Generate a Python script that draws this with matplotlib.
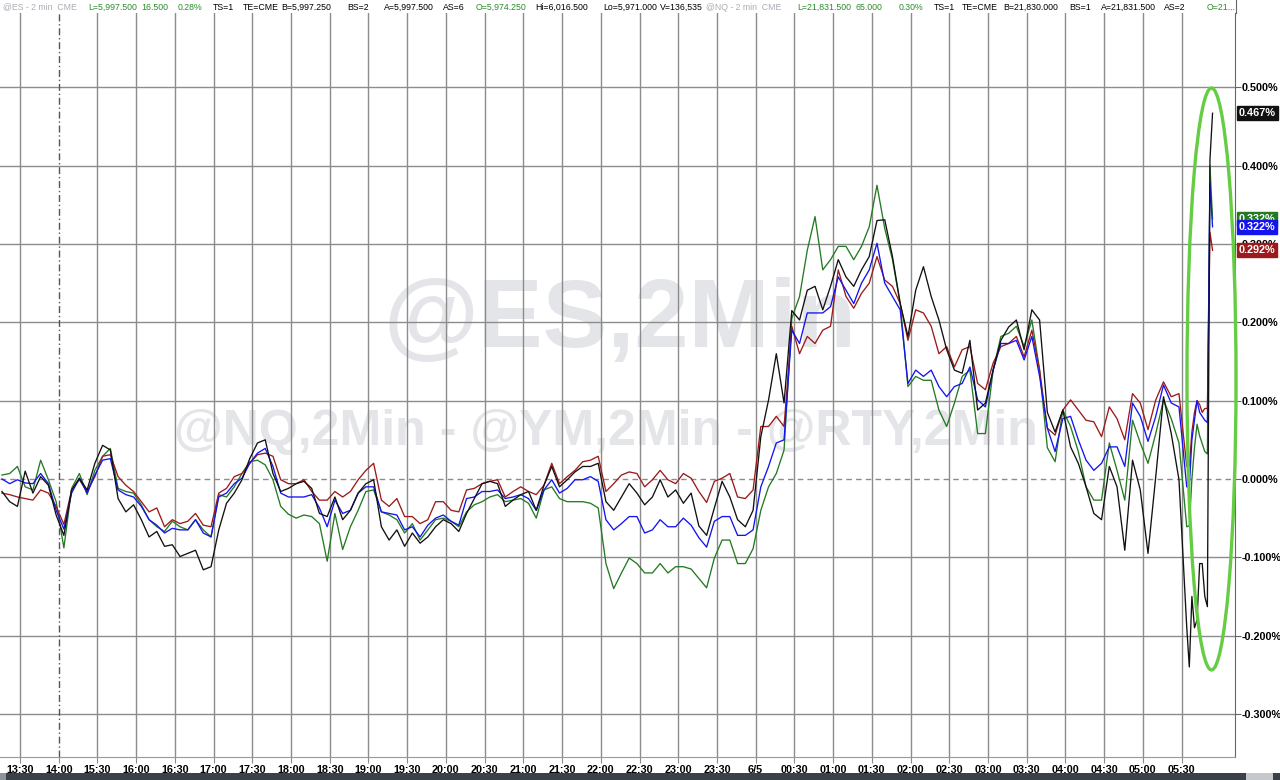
import matplotlib
matplotlib.use("Agg")
import matplotlib.pyplot as plt
from matplotlib.patches import Ellipse, Rectangle
from matplotlib.lines import Line2D
import numpy as np

plt.rcParams["font.family"] = ["Liberation Sans", "DejaVu Sans"]

# ================================================================== DATA
# session clock in minutes after 13:30 (the 14:00-15:00 break is removed)
minutes = list(range(-14, 905, 6)) + list(range(906, 925, 2))
tick_labels = ["13:30", "14:00", "15:30", "16:00", "16:30", "17:00", "17:30", "18:00", "18:30",
               "19:00", "19:30", "20:00", "20:30", "21:00", "21:30", "22:00", "22:30", "23:00",
               "23:30", "6/5", "00:30", "01:00", "01:30", "02:00", "02:30", "03:00", "03:30",
               "04:00", "04:30", "05:00", "05:30"]
y_ticks = [-0.3, -0.2, -0.1, 0.0, 0.1, 0.2, 0.3, 0.4, 0.5]

# % change
nq_black = [
    -0.016, -0.029, -0.035, 0.010, -0.018, 0.003, -0.008, -0.046, -0.072, -0.014,
    0.001, -0.014, 0.020, 0.043, 0.037, -0.025, -0.042, -0.033, -0.052, -0.074,
    -0.067, -0.086, -0.084, -0.099, -0.095, -0.091, -0.116, -0.112, -0.065, -0.031,
    -0.018, -0.001, 0.026, 0.046, 0.050, 0.007, -0.016, -0.012, -0.006, -0.003,
    -0.012, -0.044, -0.048, -0.023, -0.052, -0.040, -0.018, -0.006, -0.001, -0.061,
    -0.078, -0.065, -0.086, -0.069, -0.082, -0.074, -0.061, -0.052, -0.057, -0.067,
    -0.044, -0.025, -0.006, -0.003, -0.006, -0.035, -0.027, -0.020, -0.016, -0.040,
    -0.008, 0.016, -0.010, -0.001, 0.009, 0.016, 0.016, 0.020, -0.029, -0.040,
    -0.023, -0.006, -0.018, -0.033, -0.023, -0.001, -0.023, -0.014, -0.031, -0.018,
    -0.060, -0.072, -0.037, -0.003, -0.023, -0.052, -0.061, -0.040, 0.054, 0.101,
    0.160, 0.097, 0.215, 0.203, 0.241, 0.246, 0.216, 0.246, 0.280, 0.258,
    0.246, 0.267, 0.284, 0.330, 0.331, 0.284, 0.224, 0.182, 0.241, 0.271,
    0.233, 0.203, 0.165, 0.139, 0.135, 0.177, 0.088, 0.097, 0.139, 0.177,
    0.194, 0.203, 0.165, 0.216, 0.203, 0.085, 0.060, 0.088, 0.041, 0.020,
    -0.010, -0.044, -0.052, 0.016, -0.010, -0.091, 0.024, -0.014, -0.095, 0.003,
    0.105, 0.058, -0.001, -0.189,
    -0.240, -0.150, -0.190, -0.180, -0.108, -0.108, -0.150, -0.163, 0.408, 0.467]
rty_green = [
    0.005, 0.007, 0.016, -0.010, -0.014, 0.024, -0.001, -0.029, -0.088, -0.012,
    0.007, -0.020, 0.011, 0.029, 0.039, -0.012, -0.016, -0.018, -0.033, -0.052,
    -0.061, -0.067, -0.054, -0.061, -0.065, -0.052, -0.065, -0.074, -0.020, -0.023,
    -0.010, 0.007, 0.022, 0.024, 0.018, -0.001, -0.035, -0.045, -0.050, -0.046,
    -0.048, -0.057, -0.105, -0.044, -0.090, -0.061, -0.040, -0.016, -0.014, -0.042,
    -0.046, -0.052, -0.069, -0.057, -0.078, -0.065, -0.052, -0.050, -0.054, -0.061,
    -0.042, -0.033, -0.029, -0.023, -0.020, -0.029, -0.027, -0.025, -0.031, -0.050,
    -0.014, -0.010, -0.025, -0.029, -0.029, -0.029, -0.031, -0.037, -0.108, -0.140,
    -0.120, -0.101, -0.108, -0.120, -0.120, -0.108, -0.120, -0.112, -0.112, -0.115,
    -0.127, -0.139, -0.101, -0.078, -0.078, -0.108, -0.108, -0.089, -0.040, -0.010,
    0.007, 0.037, 0.205, 0.233, 0.292, 0.335, 0.267, 0.280, 0.297, 0.297,
    0.280, 0.297, 0.322, 0.375, 0.320, 0.280, 0.224, 0.118, 0.131, 0.126,
    0.126, 0.088, 0.067, 0.097, 0.131, 0.139, 0.058, 0.058, 0.139, 0.182,
    0.186, 0.195, 0.169, 0.203, 0.139, 0.040, 0.022, 0.088, 0.067, 0.035,
    -0.010, -0.027, -0.027, 0.046, 0.011, -0.027, 0.075, 0.046, 0.020, 0.058,
    0.101, 0.077, 0.046, -0.061,
    -0.060, 0.000, 0.040, 0.070, 0.055, 0.045, 0.035, 0.032, 0.400, 0.332]
es_blue = [
    0.000, -0.006, -0.001, -0.005, -0.006, 0.007, -0.006, -0.040, -0.064, -0.018,
    0.001, -0.018, 0.005, 0.024, 0.026, -0.014, -0.020, -0.023, -0.035, -0.052,
    -0.059, -0.069, -0.063, -0.065, -0.065, -0.052, -0.069, -0.074, -0.023, -0.018,
    -0.006, 0.001, 0.020, 0.033, 0.039, 0.016, -0.018, -0.023, -0.023, -0.023,
    -0.020, -0.037, -0.061, -0.027, -0.044, -0.040, -0.018, -0.010, -0.010, -0.042,
    -0.044, -0.046, -0.065, -0.061, -0.074, -0.059, -0.050, -0.046, -0.054, -0.059,
    -0.025, -0.023, -0.016, -0.016, -0.014, -0.025, -0.023, -0.020, -0.025, -0.040,
    -0.014, -0.001, -0.018, -0.012, -0.001, -0.001, 0.003, -0.003, -0.052, -0.065,
    -0.057, -0.048, -0.048, -0.069, -0.065, -0.052, -0.061, -0.061, -0.050, -0.059,
    -0.075, -0.087, -0.054, -0.048, -0.048, -0.072, -0.072, -0.065, -0.010, 0.016,
    0.046, 0.050, 0.190, 0.173, 0.212, 0.212, 0.212, 0.220, 0.258, 0.241,
    0.224, 0.250, 0.267, 0.301, 0.250, 0.233, 0.216, 0.122, 0.139, 0.131,
    0.139, 0.118, 0.105, 0.118, 0.122, 0.143, 0.101, 0.092, 0.139, 0.173,
    0.173, 0.177, 0.152, 0.182, 0.131, 0.065, 0.035, 0.077, 0.080, 0.050,
    0.024, 0.011, 0.020, 0.041, 0.041, 0.016, 0.097, 0.080, 0.048, 0.080,
    0.120, 0.097, 0.092, -0.010,
    -0.010, 0.050, 0.075, 0.100, 0.085, 0.080, 0.075, 0.072, 0.378, 0.322]
ym_red = [
    -0.018, -0.020, -0.023, -0.025, -0.027, -0.014, -0.018, -0.035, -0.058, -0.014,
    -0.001, -0.016, 0.003, 0.029, 0.031, 0.003, -0.008, -0.016, -0.029, -0.042,
    -0.037, -0.061, -0.052, -0.057, -0.054, -0.044, -0.059, -0.061, -0.018, -0.012,
    0.003, 0.007, 0.020, 0.031, 0.033, 0.029, -0.001, -0.006, -0.006, -0.001,
    -0.016, -0.027, -0.027, -0.016, -0.023, -0.016, -0.001, 0.011, 0.020, -0.027,
    -0.035, -0.025, -0.048, -0.048, -0.057, -0.052, -0.029, -0.029, -0.040, -0.042,
    -0.014, -0.012, -0.006, -0.003, -0.001, -0.023, -0.016, -0.010, -0.016, -0.020,
    -0.008, 0.020, -0.006, 0.003, 0.011, 0.022, 0.024, 0.029, -0.016, -0.006,
    0.005, 0.009, 0.007, -0.010, -0.001, 0.011, -0.001, -0.006, 0.007, 0.001,
    -0.016, -0.030, -0.003, 0.001, 0.007, -0.023, -0.025, -0.014, 0.067, 0.067,
    0.080, 0.067, 0.195, 0.160, 0.182, 0.173, 0.190, 0.195, 0.267, 0.233,
    0.218, 0.237, 0.250, 0.284, 0.254, 0.246, 0.224, 0.177, 0.216, 0.212,
    0.195, 0.160, 0.169, 0.143, 0.165, 0.169, 0.122, 0.114, 0.148, 0.169,
    0.173, 0.182, 0.156, 0.190, 0.139, 0.065, 0.056, 0.088, 0.101, 0.088,
    0.075, 0.073, 0.054, 0.092, 0.077, 0.050, 0.109, 0.097, 0.063, 0.101,
    0.124, 0.105, 0.109, 0.016,
    0.016, 0.060, 0.085, 0.100, 0.095, 0.085, 0.090, 0.090, 0.315, 0.292]

C_BLACK, C_GREEN, C_BLUE, C_RED = "#111111", "#237a23", "#1414ee", "#9c1a1a"
GRID = "#8c8c8c"

# ================================================================== FIGURE
fig = plt.figure(figsize=(12.8, 7.8), dpi=100)
ax = fig.add_axes([0, 23/780, 1235/1280, 744/780])
ax.set_xlim(-15.5, 941.4); ax.set_ylim(-0.355, 0.595)

xt = [30*k for k in range(len(tick_labels))]
for v in y_ticks:
    ax.axhline(v, color=GRID, lw=1.0, ls=(0, (4, 3)) if v == 0 else "-", zorder=1)
for t in xt:
    if t == 30:
        ax.axvline(t, color="#555555", lw=1.0, ls=(0, (5, 2, 1, 2)), zorder=1)
    else:
        ax.axvline(t, color=GRID, lw=1.0, zorder=1)

# watermark
ax.text(0.502, 0.585, "@ES,2Min", transform=ax.transAxes, ha="center", va="center",
        fontsize=70, fontweight="bold", color="#e4e5e8", zorder=0)
ax.text(0.491, 0.437, "@NQ,2Min - @YM,2Min - @RTY,2Min", transform=ax.transAxes, ha="center",
        va="center", fontsize=36, fontweight="bold", color="#e4e5e8", zorder=0)

for ser, c in [(rty_green, C_GREEN), (ym_red, C_RED), (es_blue, C_BLUE), (nq_black, C_BLACK)]:
    ax.plot(minutes, ser, color=c, lw=0.95, zorder=3)

ax.add_patch(Ellipse((923.2, 0.1277), width=38, height=0.743, fill=False, ec="#66cc44",
                     lw=2.4, clip_on=False, zorder=5))

# axes
for s in ["left", "top"]: ax.spines[s].set_visible(False)
ax.spines["right"].set_color("#666666"); ax.spines["bottom"].set_color("#999999")
ax.set_xticks(xt); ax.set_xticklabels(tick_labels)
ax.yaxis.tick_right(); ax.set_yticks(y_ticks)
ax.set_yticklabels([f"{v:.3f}%" for v in y_ticks])
ax.tick_params(axis="x", length=4, color=GRID, pad=2, labelsize=7.8)
ax.tick_params(axis="y", length=4, color="#666666", pad=1, labelsize=7.8)
for lab in ax.get_xticklabels() + ax.get_yticklabels(): lab.set_fontweight("bold")

# last-value tags
for ser, c in [(nq_black, C_BLACK), (rty_green, C_GREEN), (es_blue, C_BLUE), (ym_red, C_RED)]:
    ax.text(1.003, ser[-1], f"{ser[-1]:.3f}%", transform=ax.get_yaxis_transform(), ha="left",
            va="center", color="white", fontsize=7.8, fontweight="bold", clip_on=False, zorder=6,
            bbox=dict(boxstyle="square,pad=0.18", fc=c, ec=c))

# header strip
GR, GN, BK = "#a9adb5", "#2a8c2a", "#000000"
header = [(3, "@ES - 2 min  CME", GR), (88, "L=5,997.500", GN), (141, "16.500", GN), (178, "0.28%", GN),
          (213, "TS=1", BK), (243, "TE=CME", BK), (281, "B=5,997.250", BK), (347, "BS=2", BK),
          (384, "A=5,997.500", BK), (443, "AS=6", BK), (476, "O=5,974.250", GN),
          (535, "Hi=6,016.500", BK), (603, "Lo=5,971.000", BK), (660, "V=136,535", BK),
          (706, "@NQ - 2 min  CME", GR), (797, "L=21,831.500", GN), (856, "65.000", GN),
          (899, "0.30%", GN), (934, "TS=1", BK), (962, "TE=CME", BK), (1003, "B=21,830.000", BK),
          (1069, "BS=1", BK), (1101, "A=21,831.500", BK), (1164, "AS=2", BK), (1207, "O=21...", GN)]
for x, s, c in header:
    fig.text(x/1280, 1 - 7/780, s, ha="left", va="center", fontsize=6.3, color=c)
fig.add_artist(Line2D([1235.5/1280]*2, [1 - 13/780, 1], transform=fig.transFigure, color="#666666", lw=0.8))

# bottom scrollbar strip
fig.add_artist(Rectangle((0, 0), 1, 7/780, transform=fig.transFigure, fc="#3b4149", ec="none"))
fig.add_artist(Rectangle((0, 0), 6/1280, 7/780, transform=fig.transFigure, fc="#8d939b", ec="none"))
fig.add_artist(Rectangle((1246/1280, 0), 27/1280, 7/780, transform=fig.transFigure, fc="#c5c9ce", ec="none"))

fig.savefig("out.png", dpi=100, facecolor="white")
